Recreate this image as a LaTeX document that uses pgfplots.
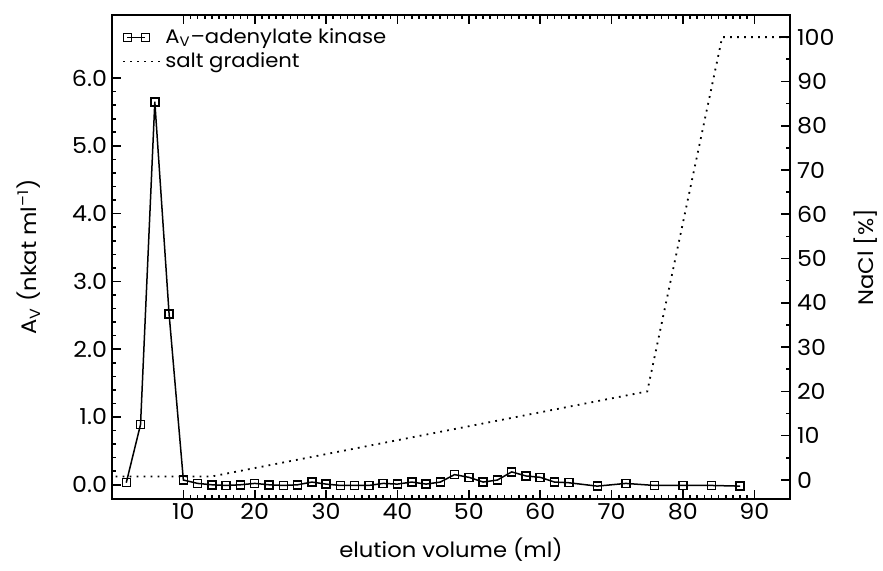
\documentclass[border=0pt]{standalone}
\usepackage{fontspec}
\setmainfont[FakeStretch=1.08]{Poppins}
\usepackage{pgfplots}
\pgfplotsset{compat=1.18}
\pgfplotsset{
  sqlegend/.style={legend image code/.code={\draw[##1] plot coordinates {(2pt,0pt) (11pt,0pt)};}},
  dotlegend/.style={legend image code/.code={\draw[##1] (0pt,0pt) -- (18.5pt,0pt);}},
}
\pgfplotstableread{
x y
2 0.03
4 0.89
6 5.65
8 2.52
10 0.07
12 0.02
14 0.00
16 -0.01
18 0.00
20 0.02
22 0.00
24 -0.01
26 0.00
28 0.04
30 0.01
32 -0.01
34 -0.01
36 -0.01
38 0.02
40 0.01
42 0.04
44 0.01
46 0.04
48 0.15
50 0.11
52 0.04
54 0.07
56 0.19
58 0.13
60 0.11
62 0.04
64 0.03
68 -0.02
72 0.02
76 -0.01
80 -0.01
84 -0.01
88 -0.02
}\akdata
\pgfplotstableread{
x y
0.5 0.8
14 0.8
75 20
85.5 100
95 100
}\saltdata
\begin{document}
\begin{tikzpicture}
\pgfplotsset{
  common/.style={
    scale only axis, width=339pt, height=242pt,
    xmin=0, xmax=95,
    tick align=inside,
    major tick length=4.5pt, minor tick length=2.2pt,
    every tick/.style={black, line width=0.8pt},
    axis line style={line width=1pt},
    tick label style={font=\fontsize{11}{12}\selectfont, /pgf/number format/assume math mode=true},
    label style={font=\fontsize{10.5}{12}\selectfont},
  }
}
\begin{axis}[common,
  ymin=-0.21, ymax=6.93,
  xtick={10,20,...,90}, minor x tick num=9,
  ytick={0,1,...,6}, minor y tick num=4,
  ytick pos=left,
  yticklabel style={xshift=1pt, /pgf/number format/.cd, fixed, fixed zerofill, precision=1},
  xticklabel style={yshift=1.5pt},
  xlabel={elution volume (ml)},
  xlabel style={at={(axis description cs:0.5,-0.1054)}, anchor=center},
  ylabel={A\textsubscript{V} (nkat ml\textsuperscript{–1})},
  ylabel style={at={(axis description cs:-0.1225,0.5)}, anchor=center},
  legend style={at={(axis description cs:0.012,0.985)}, anchor=north west, draw=none, fill=none,
    font=\fontsize{9.8}{10}\selectfont, row sep=-1pt, inner sep=1pt},
  legend cell align=left,
]
\addplot[black, line width=0.75pt, mark=square, mark size=2pt, mark options={solid, line width=0.75pt}, sqlegend]
  table[x=x, y=y] {\akdata};
\addlegendentry{A\textsubscript{V}–adenylate kinase}
\addlegendimage{black, line width=0.9pt, dash pattern=on 0.9pt off 2.6pt, dotlegend}
\addlegendentry{salt gradient}
\end{axis}
\begin{axis}[common,
  ymin=-4.3, ymax=105,
  axis x line=none,
  axis y line*=right,
  ytick={0,10,...,100}, minor y tick num=1,
  ylabel={NaCl [\%]},
  ylabel style={at={(axis description cs:1.112,0.5)}, anchor=center, rotate=0},
]
\addplot[black, line width=0.9pt, dash pattern=on 0.9pt off 2.6pt] table[x=x, y=y] {\saltdata};
\end{axis}
\pgfresetboundingbox
\path (-56pt,-35.5pt) rectangle (385.5pt,249.5pt);
\end{tikzpicture}
\end{document}
